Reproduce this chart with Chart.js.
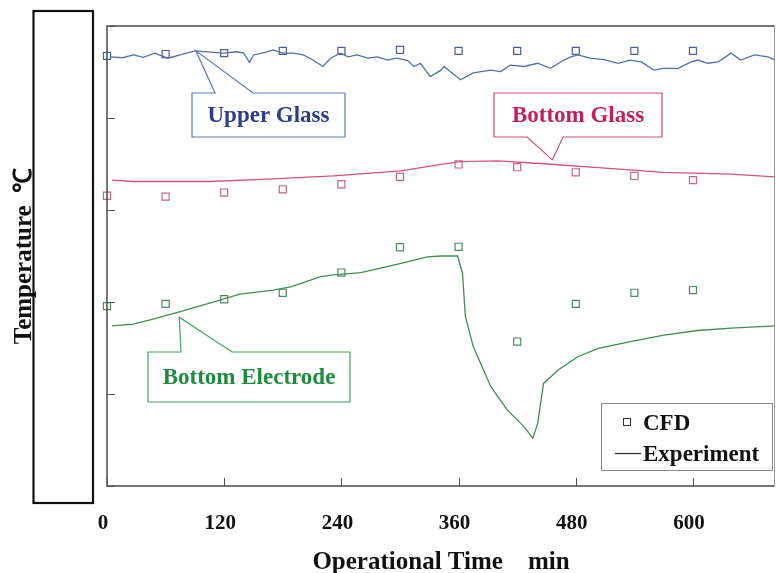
<!DOCTYPE html>
<html>
<head>
<meta charset="utf-8">
<script src="https://cdn.jsdelivr.net/npm/chart.js@4.4.1/dist/chart.umd.min.js"></script>
<style>
  html, body { margin: 0; padding: 0; background: #fff; overflow: hidden; }
  canvas { display: block; }
</style>
</head>
<body>
<canvas id="c" width="776" height="573"></canvas>
<script>
// ---- data (time in min, temperature in relative units; axis has no value labels) ----
const cfdTime = [0, 60, 120, 180, 240, 300, 360, 420, 480, 540, 600];
const upperGlassCfd = [93.5, 93.9, 94.1, 94.6, 94.6, 94.8, 94.6, 94.6, 94.6, 94.6, 94.6];
const bottomGlassCfd = [63.1, 62.9, 63.8, 64.5, 65.6, 67.2, 69.9, 69.3, 68.2, 67.4, 66.5];
const electrodeCfd = [39.1, 39.6, 40.6, 42.0, 46.4, 51.9, 52.0, 31.4, 39.6, 42.0, 42.6];

const upperGlassExpTime = [3, 16, 27, 37, 49, 62, 75, 90, 106, 119, 133, 140, 146, 150, 164, 170, 180, 191, 201, 211, 221, 229, 239, 247, 256, 267, 277, 287, 297, 308, 314, 321, 331, 342, 345, 362, 375, 393, 403, 413, 427, 441, 454, 468, 475, 482, 495, 509, 523, 536, 547, 560, 570, 585, 598, 605, 615, 626, 639, 649, 663, 677, 684];
const upperGlassExp = [93.3, 93.1, 93.7, 93.2, 94.1, 93.0, 93.7, 94.6, 94.3, 94.1, 94.4, 94.1, 92.1, 93.7, 94.4, 94.8, 94.1, 94.1, 93.7, 92.6, 91.2, 93.0, 94.1, 93.3, 93.7, 93.0, 93.3, 92.6, 93.0, 92.5, 91.2, 91.9, 89.0, 90.4, 91.2, 88.3, 89.8, 90.4, 90.1, 91.5, 91.2, 91.9, 90.8, 92.6, 93.3, 93.7, 93.0, 92.7, 91.9, 92.6, 92.2, 90.4, 90.8, 90.8, 92.2, 92.6, 91.9, 92.2, 94.1, 92.6, 93.7, 93.3, 92.6];

const bottomGlassExpTime = [5, 27, 106, 164, 232, 301, 342, 362, 400, 451, 503, 570, 639, 684];
const bottomGlassExp = [66.5, 66.2, 66.2, 66.7, 67.4, 68.5, 69.9, 70.5, 70.7, 70.0, 69.2, 68.2, 67.8, 67.2];

const electrodeExpTime = [5, 27, 51, 75, 106, 136, 170, 188, 219, 232, 260, 301, 328, 342, 359, 364, 367, 375, 393, 410, 427, 436, 441, 447, 462, 482, 503, 536, 570, 605, 639, 684];
const electrodeExp = [34.8, 35.2, 36.5, 37.9, 39.8, 41.7, 42.6, 43.3, 45.5, 45.9, 46.4, 48.4, 49.8, 50.0, 50.0, 46.2, 36.8, 30.3, 21.6, 16.5, 12.9, 10.4, 13.6, 22.3, 25.2, 28.1, 29.9, 31.4, 32.8, 33.8, 34.3, 34.8];

const xTickStep = 120;
const xMax = 684;

const SERIF = "'Liberation Serif', 'Times New Roman', serif";

function pts(xs, ys) { return xs.map((x, i) => ({ x: x, y: ys[i] })); }

// callout annotations: pixel boxes, tail tips anchored in data space
const callouts = [
  { text: 'Upper Glass', color: '#2f3c8c', border: '#5b7bb5', box: [192, 93, 345, 137], side: 'top', gap: [215, 253], tip: [91, 94.6] },
  { text: 'Bottom Glass', color: '#c21e5c', border: '#d24a80', box: [494, 93, 662, 137], side: 'bottom', gap: [527, 563], tip: [456, 70.9] },
  { text: 'Bottom Electrode', color: '#1d8c3e', border: '#45a05a', box: [148, 352, 350, 402], side: 'top', gap: [181, 232], tip: [74, 36.7] }
];

const decorPlugin = {
  id: 'decor',
  beforeDraw(chart) {
    const ctx = chart.ctx;
    ctx.save();
    ctx.fillStyle = '#fff';
    ctx.fillRect(0, 0, chart.width, chart.height);
    ctx.restore();
  },
  afterDraw(chart) {
    const { ctx, chartArea: a, scales: { x, y } } = chart;
    ctx.save();
    // frame (right edge fainter, as in the source)
    ctx.lineWidth = 1.5;
    ctx.strokeStyle = '#4a4a4a';
    ctx.beginPath();
    ctx.moveTo(a.right, a.top); ctx.lineTo(a.left, a.top); ctx.lineTo(a.left, a.bottom); ctx.lineTo(a.right, a.bottom);
    ctx.stroke();
    ctx.strokeStyle = '#9a9a9a';
    ctx.lineWidth = 1;
    ctx.beginPath();
    ctx.moveTo(a.right - 0.5, a.top); ctx.lineTo(a.right - 0.5, a.bottom);
    ctx.stroke();
    // inward tick marks
    ctx.lineWidth = 1;
    ctx.strokeStyle = '#555';
    ctx.beginPath();
    x.ticks.forEach(t => {
      const px = Math.round(x.getPixelForValue(t.value)) + 0.5;
      ctx.moveTo(px, a.bottom); ctx.lineTo(px, a.bottom - 8);
    });
    y.ticks.forEach(t => {
      const py = Math.round(y.getPixelForValue(t.value)) + 0.5;
      ctx.moveTo(a.left, py); ctx.lineTo(a.left + 8, py);
    });
    ctx.stroke();

    // black box (covering tick label region)
    ctx.strokeStyle = '#111';
    ctx.lineWidth = 2.2;
    ctx.strokeRect(33.5, 11, 59.5, 492);

    // callouts
    callouts.forEach(c => {
      const [l, t, r, b] = c.box;
      const tx = x.getPixelForValue(c.tip[0]);
      const ty = y.getPixelForValue(c.tip[1]);
      ctx.strokeStyle = c.border;
      ctx.lineWidth = 1.2;
      ctx.beginPath();
      if (c.side === 'top') {
        ctx.moveTo(l, t); ctx.lineTo(c.gap[0], t); ctx.lineTo(tx, ty); ctx.lineTo(c.gap[1], t);
        ctx.lineTo(r, t); ctx.lineTo(r, b); ctx.lineTo(l, b); ctx.closePath();
      } else {
        ctx.moveTo(l, t); ctx.lineTo(r, t); ctx.lineTo(r, b); ctx.lineTo(c.gap[1], b);
        ctx.lineTo(tx, ty); ctx.lineTo(c.gap[0], b); ctx.lineTo(l, b); ctx.closePath();
      }
      ctx.stroke();
      ctx.fillStyle = c.color;
      ctx.font = 'bold 23px ' + SERIF;
      ctx.textAlign = 'center';
      ctx.textBaseline = 'middle';
      ctx.fillText(c.text, (l + r) / 2, (t + b) / 2 + 1);
    });

    // legend
    ctx.strokeStyle = '#888';
    ctx.lineWidth = 1;
    ctx.strokeRect(601.5, 403.5, 171, 67);
    ctx.strokeStyle = '#333';
    ctx.lineWidth = 1;
    ctx.strokeRect(623.5, 418.5, 7, 7);
    ctx.beginPath();
    ctx.moveTo(615, 453.5); ctx.lineTo(641, 453.5);
    ctx.lineWidth = 1.3;
    ctx.stroke();
    ctx.fillStyle = '#111';
    ctx.font = 'bold 23px ' + SERIF;
    ctx.textAlign = 'left';
    ctx.textBaseline = 'middle';
    ctx.fillText('CFD', 643, 424);
    ctx.fillText('Experiment', 643, 455);
    ctx.restore();
  }
};

const lineDs = (label, xs, ys, color) => ({
  label, data: pts(xs, ys), showLine: true, borderColor: color, borderWidth: 1.3,
  pointRadius: 0, tension: 0, fill: false
});
const cfdDs = (label, ys, color) => ({
  label, data: pts(cfdTime, ys), showLine: false, borderColor: color, clip: false,
  backgroundColor: 'rgba(0,0,0,0)', pointStyle: 'rect', pointRadius: 5, pointBorderWidth: 1.2
});

new Chart(document.getElementById('c'), {
  type: 'scatter',
  data: {
    datasets: [
      lineDs('Upper Glass Experiment', upperGlassExpTime, upperGlassExp, '#5470a6'),
      cfdDs('Upper Glass CFD', upperGlassCfd, '#4d5f97'),
      lineDs('Bottom Glass Experiment', bottomGlassExpTime, bottomGlassExp, '#d4507e'),
      cfdDs('Bottom Glass CFD', bottomGlassCfd, '#c9628c'),
      lineDs('Bottom Electrode Experiment', electrodeExpTime, electrodeExp, '#3f8f50'),
      cfdDs('Bottom Electrode CFD', electrodeCfd, '#4f8a5c')
    ]
  },
  options: {
    responsive: false,
    devicePixelRatio: 1,
    animation: false,
    layout: { autoPadding: false, padding: { left: 0, right: 1, top: 26, bottom: 0 } },
    plugins: { legend: { display: false }, tooltip: { enabled: false } },
    scales: {
      x: {
        type: 'linear', min: 0, max: xMax,
        border: { display: false },
        grid: { display: false, drawTicks: false },
        ticks: {
          stepSize: xTickStep, includeBounds: false, padding: 25, labelOffset: -4,
          color: '#111', font: { family: SERIF, size: 21, weight: 'bold' }
        },
        title: {
          display: true, text: 'Operational Time    min', color: '#111',
          font: { family: SERIF, size: 25, weight: 'bold', lineHeight: 1 },
          padding: { top: 0, bottom: -2 }
        },
        afterFit(s) { s.height = 87; s.paddingLeft = 0; s.paddingRight = 0; }
      },
      y: {
        type: 'linear', min: 0, max: 100,
        border: { display: false },
        grid: { display: false, drawTicks: false },
        ticks: { stepSize: 20, display: false },
        title: {
          display: true, text: 'Temperature  ℃', color: '#111',
          font: { family: SERIF, size: 25, weight: 'bold', lineHeight: 1 },
          padding: { top: 12, bottom: 0 }
        },
        afterFit(s) { s.width = 107; s.paddingTop = 0; s.paddingBottom = 0; }
      }
    }
  },
  plugins: [decorPlugin]
});
</script>
</body>
</html>
